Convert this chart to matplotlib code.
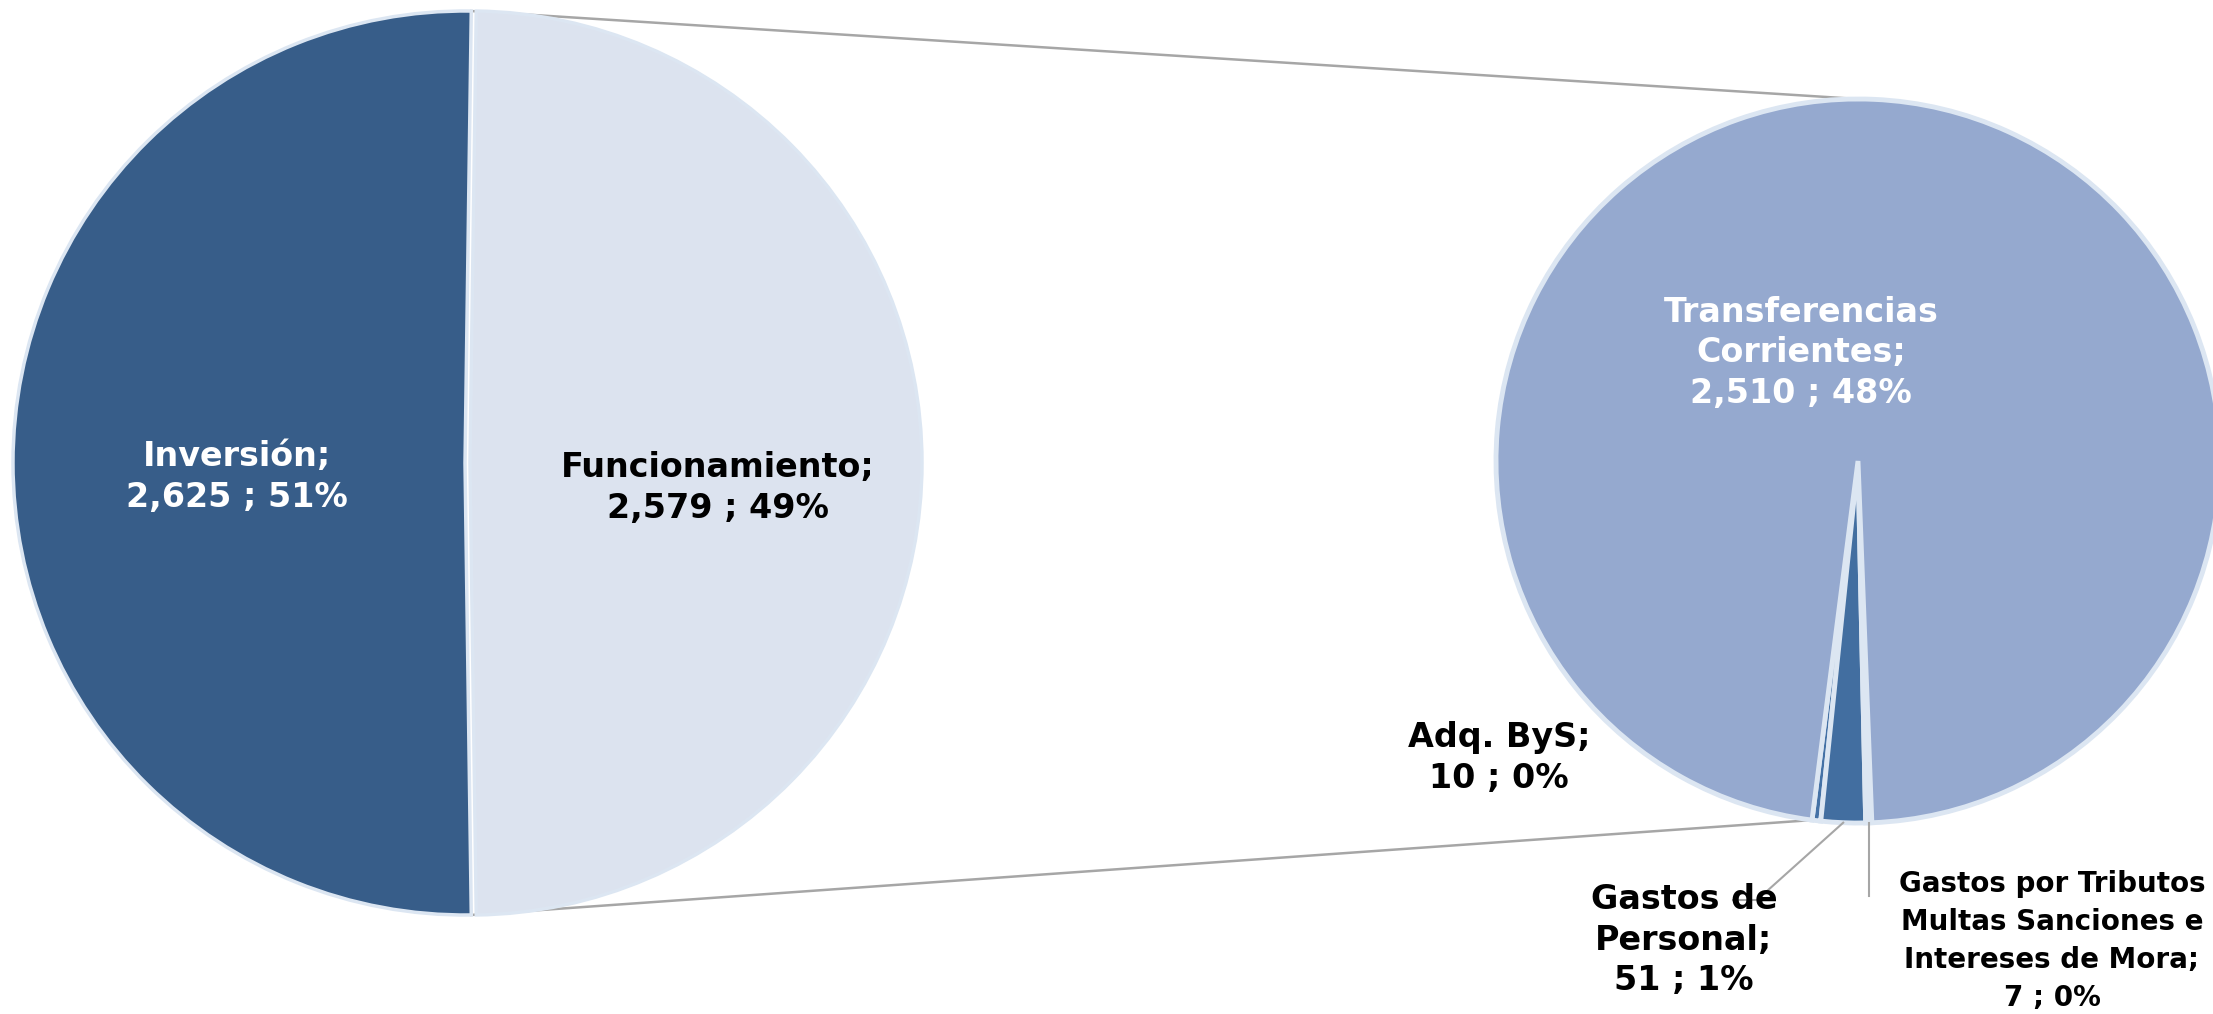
# -*- coding: utf-8 -*-

import numpy as np
from matplotlib import pyplot as plt

# main pie
main_labels = ['Inversión', 'Funcionamiento']
main_values = [2625, 2579]
main_pct = ['51%', '49%']

# breakdown of Funcionamiento (second pie)
sub_labels = ['Adq. ByS', 'Gastos de\nPersonal', 'Gastos por Tributos\nMultas Sanciones e\nIntereses de Mora',
              'Transferencias\nCorrientes']
sub_values = [10, 51, 7, 2510]
sub_pct = ['0%', '1%', '0%', '48%']

W, H = 2213, 1014
fig = plt.figure(figsize=(W / 100, H / 100), dpi=100)
ax = fig.add_axes([0, 0, 1, 1])

edge = '#dce6f2'
c1, r1 = (465, 1014 - 463), 452
c2, r2 = (1858, 1014 - 461), 362

# left pie: Funcionamiento centered on the right
frac_f = main_values[1] / sum(main_values)
start1 = frac_f * 180
ax.pie(main_values[::-1], colors=['#dce3ef', '#375d89'],
       startangle=-start1, center=c1, radius=r1, counterclock=True,
       explode=[5, 0], wedgeprops=dict(edgecolor=edge, linewidth=2.5))

# right pie: small items at the bottom
start2 = 262.7
ax.pie(sub_values, colors=['#4471a5', '#426ea0', '#dce6f2', '#95a9cf'],
       startangle=start2, center=c2, radius=r2, counterclock=True,
       wedgeprops=dict(edgecolor=edge, linewidth=3.5))

ax.set_xlim(0, W)
ax.set_ylim(0, H)
ax.set_aspect('equal')
ax.axis('off')

# series lines
a = np.deg2rad(start1)
p_top = (c1[0] + r1 * np.cos(a), c1[1] + r1 * np.sin(a))
p_bot = (c1[0] + r1 * np.cos(a), c1[1] - r1 * np.sin(a))
b = np.deg2rad(start2)
q_top = (c2[0], c2[1] + r2)
q_bot = (c2[0] + r2 * np.cos(b), c2[1] + r2 * np.sin(b))
ax.plot([p_top[0], q_top[0]], [p_top[1], q_top[1]], color='#a6a6a6', lw=1.8, zorder=0)
ax.plot([p_bot[0], q_bot[0]], [p_bot[1], q_bot[1]], color='#a6a6a6', lw=1.8, zorder=0)

fs = 24
kw = dict(ha='center', va='center', fontsize=fs, fontweight='bold', linespacing=1.3,
          family='DejaVu Sans')

def fmt(name, v, p):
    return '%s;\n%s ; %s' % (name, format(v, ','), p)

ax.text(237, 1014 - 477, fmt(main_labels[0], main_values[0], main_pct[0]), color='white', **kw)
ax.text(718, 1014 - 488, fmt(main_labels[1], main_values[1], main_pct[1]), color='black', **kw)
ax.text(1801, 1014 - 353, fmt(sub_labels[3], sub_values[3], sub_pct[3]), color='white', **kw)
ax.text(1499, 1014 - 758, fmt(sub_labels[0], sub_values[0], sub_pct[0]), color='black', **kw)
ax.text(1684, 1014 - 940, fmt(sub_labels[1], sub_values[1], sub_pct[1]), color='black', **kw)
# this one sits against the right edge, so a touch smaller to stay in the picture
kw_small = dict(kw, fontsize=20, linespacing=1.45)
ax.text(2052, 1014 - 941, fmt(sub_labels[2], sub_values[2], sub_pct[2]), color='black', **kw_small)

# leader lines for the small slices
m1 = np.deg2rad(start2 + 360 * (sub_values[0] + sub_values[1] / 2) / sum(sub_values))
m2 = np.deg2rad(start2 + 360 * (sub_values[0] + sub_values[1] + sub_values[2] / 2) / sum(sub_values))
ax.plot([c2[0] + r2 * np.cos(m1), 1757, 1733],
        [c2[1] + r2 * np.sin(m1), 1014 - 900, 1014 - 900], color='#a6a6a6', lw=1.5)
ax.plot([c2[0] + r2 * np.cos(m2), c2[0] + r2 * np.cos(m2)],
        [c2[1] + r2 * np.sin(m2), 1014 - 896], color='#a6a6a6', lw=1.5)

fig.savefig('out.png', dpi=100)
